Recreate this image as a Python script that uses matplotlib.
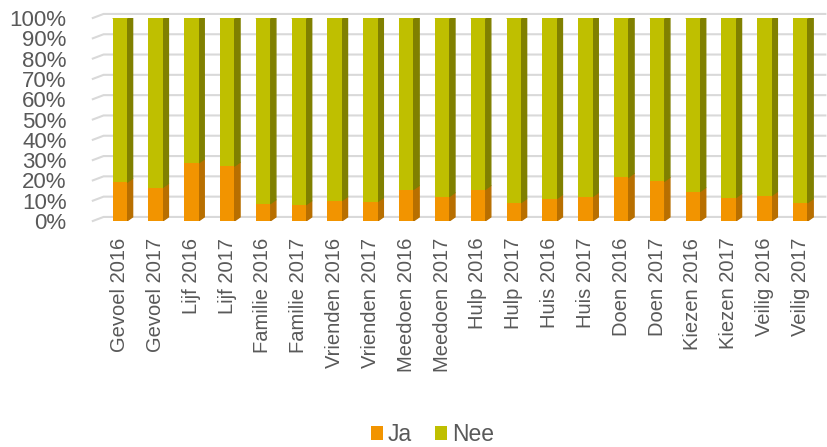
import matplotlib.pyplot as plt
from matplotlib.patches import Polygon
import numpy as np

plt.rcParams["font.family"] = ["Liberation Sans", "DejaVu Sans"]

# data
labels = ["Gevoel 2016", "Gevoel 2017", "Lijf 2016", "Lijf 2017", "Familie 2016",
          "Familie 2017", "Vrienden 2016", "Vrienden 2017", "Meedoen 2016", "Meedoen 2017",
          "Hulp 2016", "Hulp 2017", "Huis 2016", "Huis 2017", "Doen 2016",
          "Doen 2017", "Kiezen 2016", "Kiezen 2017", "Veilig 2016", "Veilig 2017"]
ja = [19, 16.5, 28.5, 27, 8.5, 8, 10, 9.5, 15.5, 12,
      15.5, 9, 11, 12, 21.5, 19.5, 14.5, 11.5, 12.5, 9]
nee = [100 - v for v in ja]

c_ja, c_ja_side = "#F29400", "#B86F00"
c_nee, c_nee_side = "#BFBF00", "#808000"
txt = "#595959"

fig = plt.figure(figsize=(8.28, 4.47), dpi=100)
ax = fig.add_axes([100 / 828, 1 - 221 / 447, 720 / 828, 203 / 447])

x = np.arange(len(labels))
w = 0.4
dx, dy = 0.16, 2.0

# back-wall gridlines with slanted left edge
for g in range(0, 101, 10):
    ax.plot([-0.75, -0.45, len(labels) - 0.3], [g, g + dy, g + dy],
            color="#d9d9d9", lw=1.5, zorder=0, clip_on=False)

ax.bar(x, ja, width=w, color=c_ja, zorder=3, label="Ja")
ax.bar(x, nee, width=w, bottom=ja, color=c_nee, zorder=3, label="Nee")

# side and top faces for the 3D look
for xi, a in zip(x, ja):
    r = xi + w / 2
    ax.add_patch(Polygon([(r, 0), (r + dx, dy), (r + dx, a + dy), (r, a)],
                         closed=True, color=c_ja_side, zorder=2))
    ax.add_patch(Polygon([(r, a), (r + dx, a + dy), (r + dx, 100 + dy), (r, 100)],
                         closed=True, color=c_nee_side, zorder=2))
    ax.add_patch(Polygon([(xi - w / 2, 100), (xi - w / 2 + dx, 100 + dy),
                          (r + dx, 100 + dy), (r, 100)],
                         closed=True, color=c_nee, zorder=2))

ax.set_xlim(-0.55, len(labels) - 0.45)
ax.set_ylim(0, 100)
ax.set_yticks(range(0, 101, 10))
ax.set_yticklabels([f"{v}%" for v in range(0, 101, 10)], fontsize=16, color=txt)
ax.set_xticks(x)
ax.set_xticklabels(labels, rotation=90, fontsize=14.5, color=txt)
ax.tick_params(axis="y", length=0, pad=24)
ax.tick_params(axis="x", length=0, pad=12)
for s in ax.spines.values():
    s.set_visible(False)

fig.legend(loc="lower center", bbox_to_anchor=(0.522, -0.045), ncol=2, frameon=False,
           fontsize=16.5, labelcolor=txt, handlelength=0.55, handleheight=0.55,
           handletextpad=0.2, columnspacing=1.0)

fig.savefig("out.png", dpi=100)
